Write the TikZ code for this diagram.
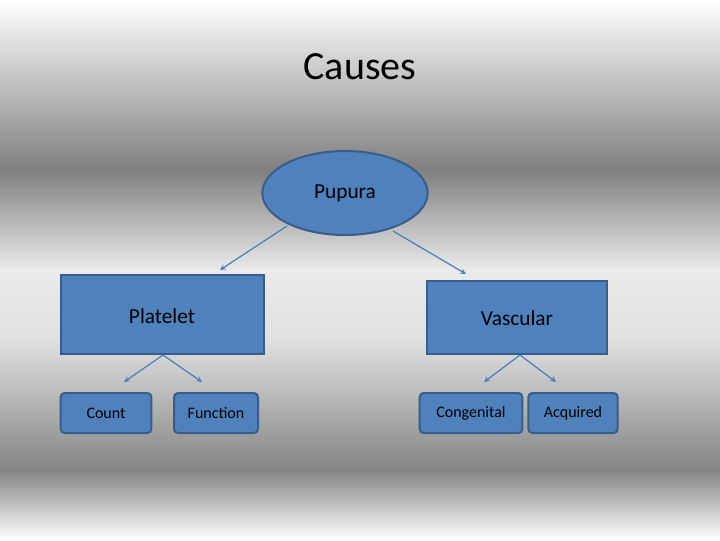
\documentclass[tikz,border=0pt]{standalone}
\usepackage{fontspec}
\setmainfont{Carlito}
\usetikzlibrary{shapes.geometric}
\definecolor{boxblue}{HTML}{4F81BD}
\definecolor{boxline}{HTML}{385D8A}
\definecolor{arrowblue}{HTML}{4A7EBB}
\begin{document}
\begin{tikzpicture}[x=0.75pt,y=-0.75pt,
    bigbox/.style={draw=boxline,line width=1.5pt,fill=boxblue,text=black},
    smallbox/.style={draw=boxline,line width=1.5pt,fill=boxblue,rounded corners=3pt,text=black,font=\fontsize{12}{14}\selectfont},
    link/.style={draw=arrowblue,line width=0.9pt,-stealth}]
    \useasboundingbox (0,0) rectangle (720,540);
    % background
    \shade[top color=white,bottom color=black!50] (0,0) rectangle (720,170);
    \shade[top color=black!50,bottom color=black!8] (0,170) rectangle (720,270);
    \shade[top color=black!8,bottom color=black!12] (0,270) rectangle (720,340);
    \shade[top color=black!12,bottom color=black!48] (0,340) rectangle (720,470);
    \shade[top color=black!48,bottom color=white] (0,470) rectangle (720,540);

    \node at (360,67) {\fontsize{30}{34}\selectfont Causes};

    \node[ellipse,bigbox,minimum width=124pt,minimum height=63pt,font=\fontsize{16}{18}\selectfont] (pupura) at (345,193) {Pupura};

    \path[bigbox] (61,275) rectangle (264,354);
    \node[font=\fontsize{16}{18}\selectfont] (platelet) at (162,316) {Platelet};
    \path[bigbox] (427,281) rectangle (607,354);
    \node[font=\fontsize{16}{18}\selectfont] (vascular) at (517,318) {Vascular};

    \node[smallbox,minimum width=68pt,minimum height=30pt] (count) at (106,413) {Count};
    \node[smallbox,minimum width=63pt,minimum height=30pt] (function) at (216,413) {Function};
    \node[smallbox,minimum width=77pt,minimum height=30pt] (congenital) at (471,413) {Congenital};
    \node[smallbox,minimum width=67pt,minimum height=30pt] (acquired) at (573,413) {Acquired};

    \coordinate (pl) at (287,226);
    \coordinate (pr) at (393,231);
    \coordinate (plb) at (163,355);
    \coordinate (vab) at (520,355);
    \draw[link] (pl) -- (220,270);
    \draw[link] (pr) -- (466,274);
    \draw[link] (plb) -- (124,382);
    \draw[link] (plb) -- (202,382);
    \draw[link] (vab) -- (484,382);
    \draw[link] (vab) -- (556,382);
\end{tikzpicture}
\end{document}
